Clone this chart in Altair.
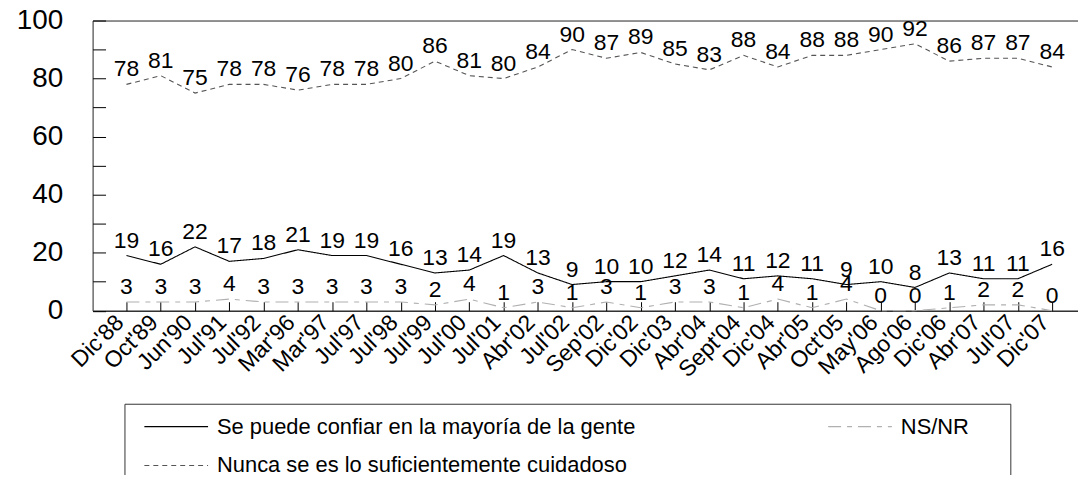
import altair as alt
import pandas as pd

categories = ["Dic'88", "Oct'89", "Jun'90", "Jul'91", "Jul'92", "Mar'96", "Mar'97", "Jul'97",
              "Jul'98", "Jul'99", "Jul'00", "Jul'01", "Abr'02", "Jul'02", "Sep'02", "Dic'02",
              "Dic'03", "Abr'04", "Sept'04", "Dic'04", "Abr'05", "Oct'05", "May'06", "Ago'06",
              "Dic'06", "Abr'07", "Jul'07", "Dic'07"]
confiar = [19, 16, 22, 17, 18, 21, 19, 19, 16, 13, 14, 19, 13, 9, 10, 10, 12, 14, 11, 12, 11, 9,
           10, 8, 13, 11, 11, 16]
cuidadoso = [78, 81, 75, 78, 78, 76, 78, 78, 80, 86, 81, 80, 84, 90, 87, 89, 85, 83, 88, 84, 88,
             88, 90, 92, 86, 87, 87, 84]
nsnr = [3, 3, 3, 4, 3, 3, 3, 3, 3, 2, 4, 1, 3, 1, 3, 1, 3, 3, 1, 4, 1, 4, 0, 0, 1, 2, 2, 0]

series_names = ["Se puede confiar en  la mayoría de la gente",
                "Nunca se es lo suficientemente cuidadoso", "NS/NR"]
series_colors = ["#000000", "#555555", "#b0b0b0"]
series_dashes = [[1, 0], [5, 4], [13, 6, 5, 6]]
y_ticks = [0, 10, 20, 30, 40, 50, 60, 70, 80, 90, 100]

rows = []
for s, vals in zip(series_names, [confiar, cuidadoso, nsnr]):
    for c, v in zip(categories, vals):
        rows.append({"cat": c, "value": v, "serie": s})
df = pd.DataFrame(rows)

W, H = 990, 291.5
FONT = "Liberation Sans"

xscale = alt.Scale(type="point", padding=0.871, align=0.567)
yscale = alt.Scale(domain=[0, 100], nice=False, zero=True)

def xenc(axis):
    return alt.X("cat:N", sort=categories, scale=xscale, axis=axis, title=None)

def yenc(axis):
    return alt.Y("value:Q", scale=yscale, axis=axis, title=None)

base = alt.Chart(df)

lines = base.mark_line(strokeWidth=1.1).encode(
    x=xenc(alt.Axis(orient="bottom", labelAngle=315, labelAlign="right", labelBaseline="middle",
                    labelFont=FONT, labelFontSize=23, labelColor="#000", tickSize=0,
                    labelPadding=8, labelOffset=-7, domainColor="#333", domainWidth=1.5,
                    grid=False, labelOverlap=False)),
    y=yenc(alt.Axis(orient="left", values=y_ticks,
                    labelExpr="datum.value % 20 == 0 ? datum.label : ''",
                    labelFont=FONT, labelFontSize=28, labelColor="#000", tickSize=0,
                    labelPadding=30, domainColor="#333", grid=False)),
    color=alt.Color("serie:N", scale=alt.Scale(domain=series_names, range=series_colors),
                    legend=alt.Legend(title="\u00a0", titleOrient="right", titlePadding=30,
                                      titleFontSize=4,
                                      orient="none", legendX=32, legendY=385,
                                      columns=2, columnPadding=179, rowPadding=17,
                                      symbolType="M-1,0H7", symbolSize=256, symbolStrokeWidth=1.1,
                                      symbolOffset=5,
                                      labelFont=FONT, labelFontSize=22,
                                      labelColor="#000", labelOffset=54, labelLimit=600,
                                      padding=12, strokeColor="#333", fillColor="white")),
    strokeDash=alt.StrokeDash("serie:N", scale=alt.Scale(domain=series_names, range=series_dashes),
                              legend=alt.Legend(title="\u00a0")),
)

labels = base.mark_text(dy=-15, font=FONT, fontSize=23, color="#000").encode(
    x=xenc(alt.Axis(orient="top", offset=-H, labels=False, domain=False, tickSize=9,
                    tickColor="#000", grid=False)),
    y=yenc(alt.Axis(orient="right", offset=-W, values=y_ticks, labels=False, domain=False,
                    tickSize=13, tickColor="#000", grid=False)),
    text="value:Q",
)

frame = base.mark_line(strokeOpacity=0).encode(
    x=xenc(alt.Axis(orient="top", labels=False, ticks=False, domainColor="#333", grid=False)),
    y=yenc(None),
    detail="serie:N",
)

chart = alt.layer(lines, labels, frame).resolve_axis(x="independent", y="independent").properties(
    width=W, height=H,
    autosize=alt.AutoSizeParams(type="none"),
    padding={"left": 85, "top": 11.5, "right": 0, "bottom": 164},
).configure_view(stroke=None).configure(background="white")

chart.save("out.html", embed_options={"renderer": "svg", "actions": False})
